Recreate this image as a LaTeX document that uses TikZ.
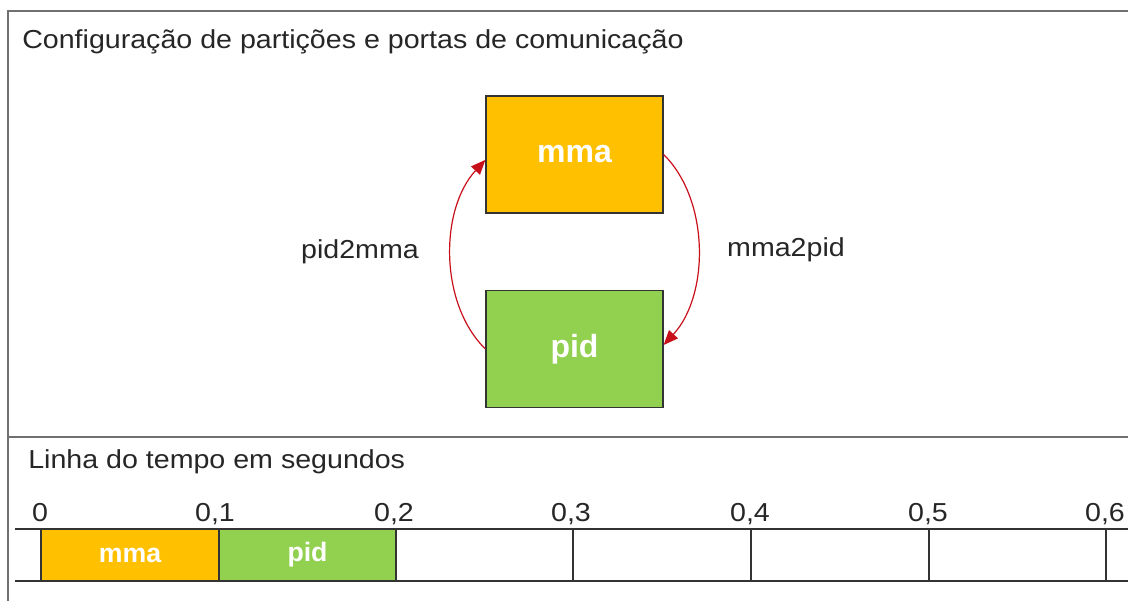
\documentclass[tikz,border=0pt]{standalone}
\usepackage{fontspec}
\usepackage{graphicx}
\setmainfont{Liberation Sans}
\usetikzlibrary{arrows.meta}
\definecolor{orangec}{HTML}{FFC000}
\definecolor{greenc}{HTML}{92D050}
\definecolor{arrowred}{HTML}{C8101A}
\definecolor{framegray}{HTML}{707070}
\newcommand{\wtxt}[1]{\scalebox{1.1}[1]{#1}}
\begin{document}
\begin{tikzpicture}[x=0.75pt,y=-0.75pt,
  frame/.style={draw=framegray,line width=1.4pt},
  bigbox/.style={draw=black!80,line width=0.9pt,minimum width=132.75pt,minimum height=87.75pt,inner sep=0pt,font=\fontsize{24}{28}\selectfont\bfseries,text=white},
  cell/.style={draw=black!85,line width=0.9pt,minimum width=133pt,minimum height=39pt,inner sep=0pt,font=\fontsize{20}{24}\selectfont\bfseries,text=white},
  conn/.style={draw=arrowred,line width=0.9pt,-{Triangle[length=11pt,width=9pt]}},
  lbl/.style={font=\fontsize{19.5}{23}\selectfont,text=black!85,inner sep=0pt},
  tick/.style={font=\fontsize{19.5}{23}\selectfont,text=black!85,anchor=base,inner sep=0pt},
  tl/.style={draw=black!80,line width=0.9pt}]
\useasboundingbox (0,0) rectangle (1128,601);
% frame
\draw[frame] (1128,11) -- (8,11) -- (8,601);
\draw[frame] (8,437) -- (1128,437);
% titles
\node[lbl,anchor=base west] (t1) at (22,48) {\wtxt{Configuração de partições e portas de comunicação}};
\node[lbl,anchor=base west] (t2) at (28,468) {\wtxt{Linha do tempo em segundos}};
% boxes
\node[bigbox,fill=orangec] (mma) at (574.5,154.5) {mma};
\node[bigbox,fill=greenc] (pid) at (574.5,349) {pid};
% connectors
\draw[conn] (pid.west) .. controls ++(-46,-45) and ++(-46,50) .. ([yshift=-4pt]mma.west);
\draw[conn] (mma.east) .. controls ++(46,45) and ++(46,-50) .. ([yshift=3pt]pid.east);
\node[lbl,anchor=base] (l1) at (360,258) {\wtxt{pid2mma}};
\node[lbl,anchor=base] (l2) at (786,256) {\wtxt{mma2pid}};
% timeline
\coordinate (a0) at (15,529);
\coordinate (a1) at (1128,529);
\coordinate (b0) at (15,581);
\coordinate (b1) at (1128,581);
\node[cell,fill=orangec,minimum width=133.5pt] (c1) at (130,555) {mma};
\node[cell,fill=greenc,minimum width=132.75pt] (c2) at (307.5,555) {pid};
\draw[tl] (a0) -- (a1);
\draw[tl] (b0) -- (b1);
\foreach \x in {41,219,396,573,751,929,1106}{
  \draw[tl] (\x,529) -- (\x,581);
}
\node[tick] (n0) at (40,521) {\wtxt{0}};
\node[tick] (n1) at (215,521) {\wtxt{0,1}};
\node[tick] (n2) at (394,521) {\wtxt{0,2}};
\node[tick] (n3) at (571,521) {\wtxt{0,3}};
\node[tick] (n4) at (750,521) {\wtxt{0,4}};
\node[tick] (n5) at (928,521) {\wtxt{0,5}};
\node[tick] (n6) at (1105,521) {\wtxt{0,6}};
\end{tikzpicture}
\end{document}
